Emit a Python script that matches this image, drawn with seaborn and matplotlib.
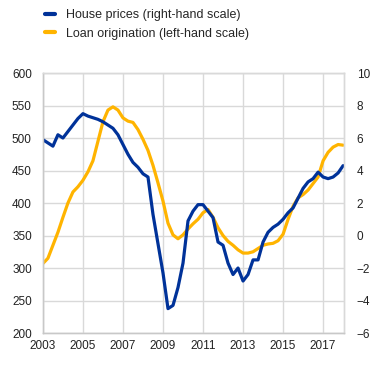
import numpy as np
import pandas as pd
import seaborn as sns
import matplotlib.pyplot as plt

# quarterly observations, 2003Q1 .. 2018Q1
house_prices = [5.9, 5.7, 5.5, 6.2, 6.0, 6.4, 6.8, 7.2,
                7.5, 7.35, 7.25, 7.15, 7.0, 6.8, 6.6, 6.2,
                5.6, 5.0, 4.5, 4.2, 3.8, 3.6, 1.3, -0.5,
                -2.3, -4.5, -4.3, -3.2, -1.7, 0.9, 1.5, 1.9,
                1.9, 1.5, 1.1, -0.4, -0.6, -1.7, -2.4, -2.0,
                -2.8, -2.4, -1.5, -1.5, -0.4, 0.2, 0.5, 0.7,
                1.0, 1.4, 1.7, 2.3, 2.9, 3.3, 3.5, 3.9,
                3.6, 3.5, 3.6, 3.85, 4.3]
loan_origination = [307, 315, 335, 355, 378, 400, 417, 425,
                    435, 448, 465, 495, 525, 543, 548, 543,
                    531, 526, 524, 513, 498, 481, 458, 431,
                    403, 369, 351, 345, 351, 360, 368, 375,
                    385, 390, 378, 362, 350, 341, 335, 328,
                    323, 323, 325, 330, 335, 337, 338, 342,
                    352, 375, 395, 408, 413, 420, 430, 440,
                    465, 478, 486, 490, 489]
years = 2003 + np.arange(len(house_prices)) / 4
x_ticks = [2003, 2005, 2007, 2009, 2011, 2013, 2015, 2017]

df = pd.DataFrame({'year': years, 'house': house_prices, 'loans': loan_origination})

sns.set_style('whitegrid')
plt.rcParams['font.family'] = ['Liberation Sans', 'DejaVu Sans']
plt.rcParams['font.size'] = 8.5

blue = '#003299'
yellow = '#ffb400'
grid_col = '#d9d9d9'

fig = plt.figure(figsize=(3.70, 3.67), dpi=100)
ax = fig.add_axes([0.116, 0.0926, 0.814, 0.7084])
ax2 = ax.twinx()

sns.lineplot(data=df, x='year', y='loans', ax=ax, color=yellow, linewidth=2.3)
sns.lineplot(data=df, x='year', y='house', ax=ax2, color=blue, linewidth=2.3)

ax.set_xlim(2003, 2018.05)
ax.set_ylim(200, 600)
ax.set_yticks(range(200, 601, 50))
ax.set_xticks(x_ticks)
ax2.set_ylim(-6, 10)
ax2.set_yticks(range(-6, 11, 2))
ax2.grid(False)

for a in (ax, ax2):
    a.set_xlabel('')
    a.set_ylabel('')
    a.tick_params(length=0, labelsize=8.5, colors='#222222')
    for s in a.spines.values():
        s.set_color(grid_col)
        s.set_linewidth(1)
ax2.spines['left'].set_color('#c8c8c8')
ax2.spines['bottom'].set_color('#c8c8c8')
ax.grid(color=grid_col, linewidth=1)
ax.tick_params(axis='y', pad=8)
ax.tick_params(axis='x', pad=5)
ax2.tick_params(axis='y', pad=9)

handles = [plt.Line2D([], [], color=blue, linewidth=3),
           plt.Line2D([], [], color=yellow, linewidth=3)]
fig.legend(handles, ['House prices (right-hand scale)', 'Loan origination (left-hand scale)'],
           loc='upper left', bbox_to_anchor=(0.09, 1.005), frameon=False,
           handlelength=0.8, handletextpad=0.9, labelspacing=0.5, fontsize=9)

fig.savefig('out.png', dpi=100)
